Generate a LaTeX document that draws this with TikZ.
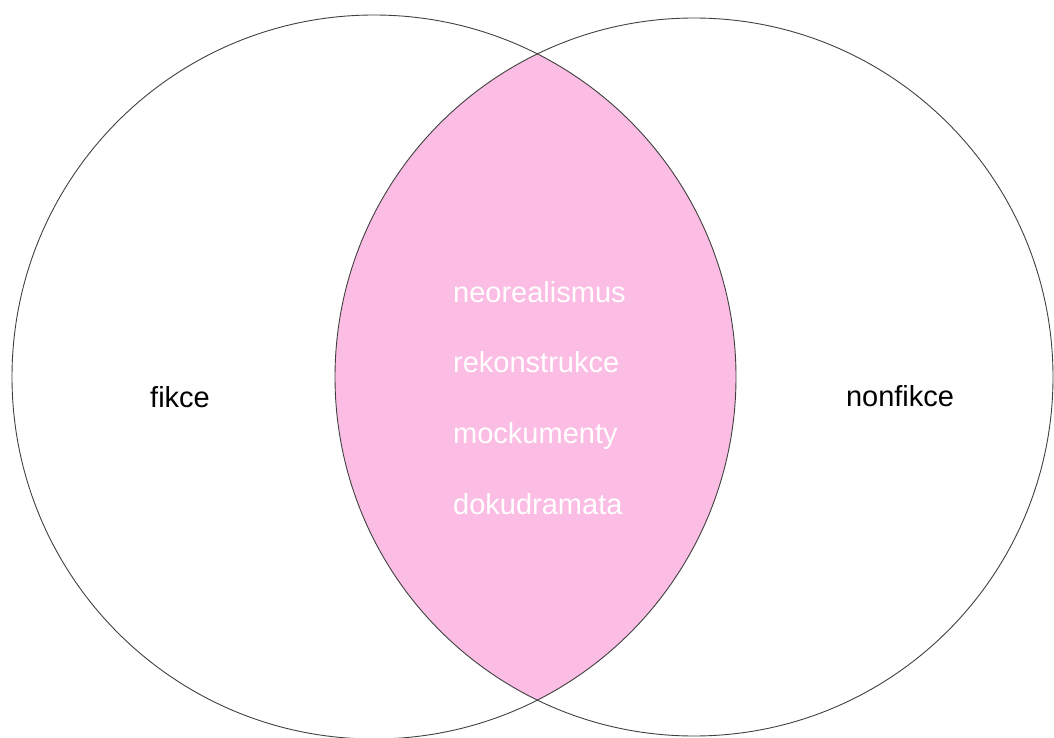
\documentclass[tikz,border=0pt]{standalone}
\usepackage{fontspec}
\setmainfont{Liberation Sans}
\usetikzlibrary{positioning}
\definecolor{lenspink}{HTML}{FBBDE3}

\begin{document}
\begin{tikzpicture}[x=1pt, y=-1pt,
        word/.style={font=\fontsize{29}{34}\selectfont, inner sep=0pt},
        ring/.style={draw=black!75, line width=0.9pt}]
        \useasboundingbox (0,0) rectangle (1054,738);
        \clip (0,0) rectangle (1054,738);
        \coordinate (L) at (374,377);
        \coordinate (R) at (694,377);

        % lens
        \begin{scope}
            \clip (L) circle[radius=362pt];
            \fill[lenspink] (R) circle[radius=359pt];
        \end{scope}
        \draw[ring] (L) circle[radius=362pt];
        \draw[ring] (R) circle[radius=359pt];

        \node[word, anchor=base] (fikce) at (180,407) {fikce};
        \node[word, anchor=base] (nonfikce) at (900,406) {nonfikce};

        \node[word, white, anchor=base west] (neo) at (453,302) {neorealismus};
        \node[word, white, below=70.7pt of neo.base west, anchor=base west] (rek) {rekonstrukce};
        \node[word, white, below=70.7pt of rek.base west, anchor=base west] (mock) {mockumenty};
        \node[word, white, below=70.7pt of mock.base west, anchor=base west] (doku) {dokudramata};
    \end{tikzpicture}
\end{document}
